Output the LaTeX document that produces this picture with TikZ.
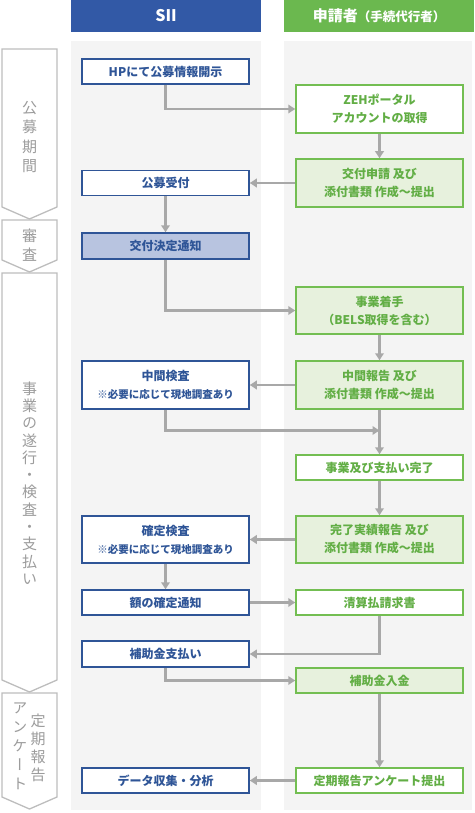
\documentclass[tikz,border=0pt]{standalone}
\usepackage{fontspec}
\setmainfont{Noto Sans CJK JP}
\newfontfamily\vjp[RawFeature=+vert]{Noto Sans CJK JP}
\usetikzlibrary{arrows.meta}
\definecolor{hblue}{HTML}{3259A6}
\definecolor{hgreen}{HTML}{6BB84F}
\definecolor{bblue}{HTML}{2F5597}
\definecolor{bfillblue}{HTML}{B8C4E0}
\definecolor{ggreen}{HTML}{73BE52}
\definecolor{gtext}{HTML}{62AE45}
\definecolor{gfill}{HTML}{E7F1DD}
\definecolor{colbg}{HTML}{F4F4F4}
\definecolor{agray}{HTML}{A8A8A8}
\definecolor{sgray}{HTML}{BDBDBD}
\definecolor{stext}{HTML}{9C9C9C}
\tikzset{
  boxbase/.style={line width=1.5pt, minimum width=167pt, inner sep=0pt, align=center,
    font=\bfseries\fontsize{12}{18}\selectfont},
  sbox/.style={boxbase, draw=bblue, fill=white, text=bblue},
  sboxfill/.style={boxbase, draw=bblue, fill=bfillblue, text=bblue},
  abox/.style={boxbase, draw=ggreen, fill=white, text=gtext},
  aboxfill/.style={boxbase, draw=ggreen, fill=gfill, text=gtext},
  flow/.style={draw=agray, line width=2.6pt, -{Triangle[length=7pt,width=8.5pt]}},
  stage/.style={draw=sgray, line width=1.3pt, fill=white},
  stagetext/.style={text=stext, align=center, inner sep=0pt,
    font=\vjp\fontsize{15}{19.5}\selectfont},
}
\begin{document}
\begin{tikzpicture}[x=1pt,y=-1pt]
\useasboundingbox (0,0) rectangle (474,813);
% headers
\fill[hblue] (71,0) rectangle (261,32);
\fill[hgreen] (284,0) rectangle (474,32);
\node[text=white, font=\bfseries\fontsize{16}{18}\selectfont] (hsii) at (166,16) {SII};
\node[text=white, font=\bfseries\fontsize{15}{18}\selectfont] (happ) at (379,16) {申請者{\fontsize{12.5}{14}\selectfont（手続代行者）}};
% column backgrounds
\fill[colbg] (71,41) rectangle (261,810);
\fill[colbg] (284,41) rectangle (472,810);
% stage arrows
\draw[stage] (2,49) -- (57,49) -- (57,207) -- (29.5,219) -- (2,207) -- cycle;
\draw[stage] (2,220) -- (57,220) -- (57,260) -- (29.5,272) -- (2,260) -- cycle;
\draw[stage] (2,273) -- (57,273) -- (57,680) -- (29.5,692) -- (2,680) -- cycle;
\draw[stage] (2,693) -- (57,693) -- (57,797) -- (29.5,809) -- (2,797) -- cycle;
\node[stagetext] (t1) at (29.5,137) {公\\募\\期\\間};
\node[stagetext] (t2) at (29.5,245) {審\\査};
\node[stagetext, font=\vjp\fontsize{15}{17.3}\selectfont] (t3) at (29.5,483) {事\\業\\の\\遂\\行\\・\\検\\査\\・\\支\\払\\い};
\node[stagetext, font=\vjp\fontsize{15}{18}\selectfont] (t4a) at (38,748) {定\\期\\報\\告};
\node[stagetext, font=\vjp\fontsize{15}{19}\selectfont] (t4b) at (20,746) {ア\\ン\\ケ\\ー\\ト};
% boxes
\node[sbox, minimum height=25pt] (hp) at (165.5,71.5) {HPにて公募情報開示};
\node[abox, minimum height=48pt] (zeh) at (379.5,109) {ZEHポータル\\アカウントの取得};
\node[aboxfill, minimum height=48pt] (kofu) at (379.5,183) {交付申請 及び\\添付書類 作成～提出};
\node[sbox, minimum height=25pt] (boshu) at (165.5,183) {公募受付};
\node[sboxfill, minimum height=26pt] (kettei) at (165.5,246) {交付決定通知};
\node[aboxfill, minimum height=47pt] (chakushu) at (379.5,310.5) {事業着手\\（BELS取得を含む）};
\node[sbox, minimum height=48pt] (chukank) at (165.5,385) {中間検査\\{\fontsize{10.5}{14}\selectfont ※必要に応じて現地調査あり}};
\node[aboxfill, minimum height=48pt] (chukanr) at (379.5,385) {中間報告 及び\\添付書類 作成～提出};
\node[abox, minimum height=25pt] (kanryo) at (379.5,467.5) {事業及び支払い完了};
\node[sbox, minimum height=47pt] (kakutei) at (165.5,539.5) {確定検査\\{\fontsize{10.5}{14}\selectfont ※必要に応じて現地調査あり}};
\node[aboxfill, minimum height=47pt] (jisseki) at (379.5,539.5) {完了実績報告 及び\\添付書類 作成～提出};
\node[sbox, minimum height=25pt] (gaku) at (165.5,602.5) {額の確定通知};
\node[abox, minimum height=25pt] (seisan) at (379.5,602.5) {清算払請求書};
\node[sbox, minimum height=26pt] (shiharai) at (165.5,654) {補助金支払い};
\node[aboxfill, minimum height=25pt] (nyukin) at (379.5,680.5) {補助金入金};
\node[sbox, minimum height=25pt] (data) at (165.5,780.5) {データ収集・分析};
\node[abox, minimum height=25pt] (teiki) at (379.5,780.5) {定期報告アンケート提出};
% connectors
\coordinate (j1) at (379.5,430.5);
\draw[flow] (hp.south) |- (zeh.west);
\draw[flow] (zeh.south) -- (kofu.north);
\draw[flow] (kofu.west) -- (boshu.east);
\draw[flow] (boshu.south) -- (kettei.north);
\draw[flow] (kettei.south) |- (chakushu.west);
\draw[flow] (chakushu.south) -- (chukanr.north);
\draw[flow] (chukanr.west) -- (chukank.east);
\draw[flow] (chukank.south) |- (j1);
\draw[flow] (chukanr.south) -- (kanryo.north);
\draw[flow] (kanryo.south) -- (jisseki.north);
\draw[flow] (jisseki.west) -- (kakutei.east);
\draw[flow] (kakutei.south) -- (gaku.north);
\draw[flow] (gaku.east) -- (seisan.west);
\draw[flow] (seisan.south) |- (shiharai.east);
\draw[flow] (shiharai.south) |- (nyukin.west);
\draw[flow] (nyukin.south) -- (teiki.north);
\draw[flow] (teiki.west) -- (data.east);
\end{tikzpicture}
\end{document}
